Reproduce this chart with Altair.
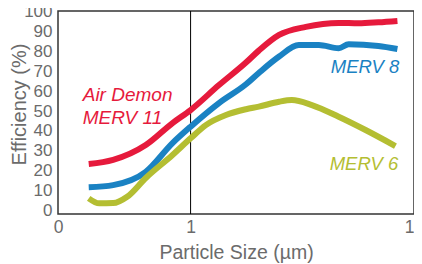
import altair as alt
import pandas as pd

# Particle sizes (µm) and efficiencies (%)
red_size = [0.35, 0.45, 0.63, 0.83, 1.0, 1.34, 1.77, 2.02, 2.49, 3.28, 4.6, 5.65, 6.93, 8.43]
red_eff = [23.2, 25.3, 32.8, 43.9, 50.5, 63.1, 74.5, 80.5, 88.4, 92.5, 94.5, 94.3, 94.8, 95.5]

blue_size = [0.35, 0.45, 0.63, 0.83, 1.0, 1.34, 1.77, 2.02, 2.49, 3.05, 3.75, 4.6, 5.1, 6.93, 8.43]
blue_eff = [11.5, 12.6, 19.3, 33.8, 42.1, 54.0, 63.5, 69.2, 77.5, 83.3, 83.3, 81.7, 83.7, 82.8, 81.3]

green_size = [0.35, 0.39, 0.45, 0.52, 0.63, 0.83, 1.0, 1.17, 1.44, 1.77, 2.02, 2.49, 2.84, 3.49, 4.6, 6.07, 8.26]
green_eff = [5.9, 3.4, 3.5, 6.7, 16.2, 27.8, 36.2, 42.9, 48.0, 50.9, 52.2, 54.7, 55.5, 53.0, 47.1, 40.4, 32.3]

series_names = ["Air Demon MERV 11", "MERV 8", "MERV 6"]
series_colors = ["#e61a3c", "#1a82c3", "#b4be32"]

label_left_text = ["Air Demon", "MERV 11"]
label_left_x = [0.329, 0.329]
label_left_y = [58.1, 46.5]

label_right_text = ["MERV 8", "MERV 6"]
label_right_x = [8.6, 8.5]
label_right_y = [72.2, 23.2]
label_right_color = ["#1a82c3", "#b4be32"]

x_ticks = [0.255, 1, 10]
y_ticks = [0, 10, 20, 30, 40, 50, 60, 70, 80, 90, 100]

rows = []
for name, xs, ys in zip(series_names, [red_size, blue_size, green_size], [red_eff, blue_eff, green_eff]):
    for i, (xv, yv) in enumerate(zip(xs, ys)):
        rows.append({"series": name, "size": xv, "eff": yv, "order": i})
df = pd.DataFrame(rows)

left_df = pd.DataFrame({"text": label_left_text, "size": label_left_x, "eff": label_left_y})
right_df = pd.DataFrame({"text": label_right_text, "size": label_right_x, "eff": label_right_y, "color": label_right_color})

gray = "#6b6b6b"
FONT = "Liberation Sans"

xscale = alt.Scale(type="log", domain=[0.255, 10], nice=False)
yscale = alt.Scale(domain=[-2, 100.5], nice=False, zero=False)

xaxis = alt.Axis(
    values=x_ticks, labelExpr="datum.value < 0.5 ? '0' : format(datum.value, 'd')",
    title="Particle Size (µm)", grid=False, domain=False, ticks=False,
    labelFlush=False, labelOverlap=False, labelPadding=4, labelFontSize=17.5,
    labelColor=gray, labelFont=FONT,
    titleFontSize=19.5, titleColor=gray, titleFont=FONT, titleFontWeight="normal",
    titleY=44, titleBaseline="alphabetic",
)
yaxis = alt.Axis(
    values=y_ticks, title="Efficiency (%)", grid=False, domain=False, ticks=False,
    labelOverlap=False, labelPadding=6, labelFontSize=17, labelColor=gray, labelFont=FONT,
    titleFontSize=20, titleColor=gray, titleFont=FONT, titleFontWeight="normal",
    titleX=-49, titleY=93, titleAngle=-90, titleAlign="center", titleBaseline="top",
)

X = alt.X("size:Q", scale=xscale, axis=xaxis, title="Particle Size (µm)")
Y = alt.Y("eff:Q", scale=yscale, axis=yaxis, title="Efficiency (%)")

lines = alt.Chart(df).mark_line(strokeWidth=6, interpolate="monotone", strokeCap="butt").encode(
    x=X, y=Y,
    color=alt.Color("series:N", scale=alt.Scale(domain=series_names, range=series_colors), legend=None),
    order="order:Q",
    detail="series:N",
)

vline = alt.Chart(pd.DataFrame({"size": [1]})).mark_rule(color="black", strokeWidth=1).encode(
    x=X,
)

left_labels = alt.Chart(left_df).mark_text(
    align="left", baseline="middle", fontSize=19, fontStyle="italic", font=FONT, color="#e61a3c"
).encode(x=X, y=Y, text="text:N")

right_labels = alt.Chart(right_df).mark_text(
    align="right", baseline="middle", fontSize=18.5, fontStyle="italic", font=FONT
).encode(
    x=X, y=Y, text="text:N",
    color=alt.Color("color:N", scale=None),
)

chart = alt.layer(vline, lines, left_labels, right_labels).properties(
    width=356, height=203,
    autosize=alt.AutoSizeParams(type="none"),
    padding={"left": 50, "top": 3, "right": 0, "bottom": 50},
    background="white",
).configure_view(
    stroke="#333333", strokeWidth=1.5
).configure_axis(
    labelOverlap=False
)

chart.save("out.html", embed_options={"renderer": "svg", "actions": False})
